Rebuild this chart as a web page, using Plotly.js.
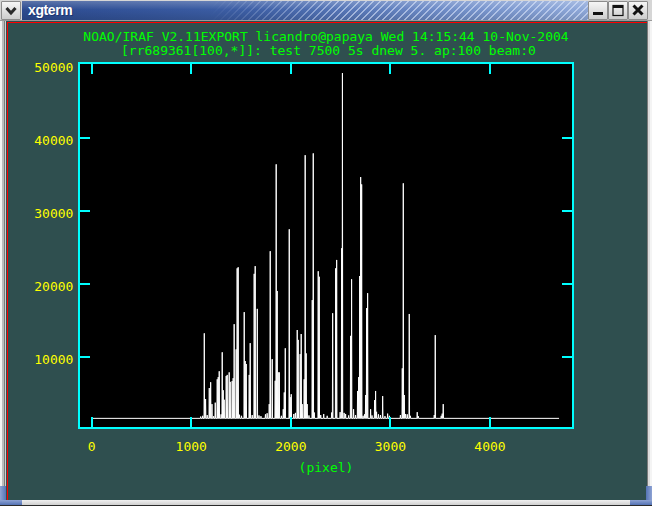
<!DOCTYPE html>
<html><head><meta charset="utf-8">
<script src="https://cdn.plot.ly/plotly-3.0.1.min.js"></script>
<style>
html,body{margin:0;padding:0;background:#2f4f4f;overflow:hidden;}
#wrap{position:relative;width:652px;height:506px;overflow:hidden;}
#chart{position:absolute;left:0;top:0;width:652px;height:506px;}
.c{position:absolute;box-sizing:border-box;}
.btn{top:1px;width:20px;height:19px;background:linear-gradient(#f6f6f6,#cdcdcd);border:1px solid #8c8c8c;border-radius:1px;}
</style></head><body>
<div id="wrap">
<div id="chart"></div>
<!-- window chrome -->
<div class="c" style="left:0;top:0;width:652px;height:21px;background:#d6d6d6;border-bottom:1px solid #9a9a9a;"></div>
<div class="c btn" style="left:1px;">
  <svg width="18" height="17" style="position:absolute;left:0;top:0"><polyline points="4.5,6 9,11 13.5,6" fill="none" stroke="#2a2a2a" stroke-width="3"/></svg>
</div>
<div class="c" style="left:22px;top:1px;width:566px;height:19px;background:linear-gradient(to bottom,rgba(255,255,255,0.22),rgba(255,255,255,0) 45%,rgba(0,0,0,0.12)),linear-gradient(to right,#2c4b90 0%,#3d5fa6 40%,#6f8dc8 75%,#8fa9da 100%);"></div>
<div class="c" style="left:210px;top:1px;width:378px;height:19px;background:repeating-linear-gradient(135deg,rgba(225,235,255,0.55) 0 1.4px,transparent 1.4px 5px);-webkit-mask-image:linear-gradient(to right,transparent 0,#000 35%);mask-image:linear-gradient(to right,transparent 0,#000 35%);"></div>
<div class="c" style="left:28px;top:2px;height:17px;line-height:17px;color:#ffffff;font:bold 14px 'Liberation Sans',Arial,sans-serif;letter-spacing:-0.4px;text-shadow:1px 1px 0 #1d3470;">xgterm</div>
<div class="c btn" style="left:588px;"><svg width="18" height="17" style="position:absolute;left:0;top:0"><rect x="4" y="10" width="10" height="3" fill="#111"/></svg></div>
<div class="c btn" style="left:608px;"><svg width="18" height="17" style="position:absolute;left:0;top:0"><rect x="4" y="3.5" width="10" height="10" fill="none" stroke="#111" stroke-width="1.2"/><rect x="4" y="3" width="10" height="3" fill="#111"/></svg></div>
<div class="c btn" style="left:628px;"><svg width="18" height="17" style="position:absolute;left:0;top:0"><path d="M4.5,3.5 L13.5,12.5 M13.5,3.5 L4.5,12.5" stroke="#111" stroke-width="3"/></svg></div>
<!-- side borders -->
<div class="c" style="left:0;top:21px;width:6px;height:466px;background:linear-gradient(to right,#f2f2f2 0,#f2f2f2 2px,#bcbcbc 2px,#bcbcbc 4px,#7a7a7a 4px,#7a7a7a 5px,#d0d0d0 5px);"></div>
<div class="c" style="left:7px;top:22px;width:1px;height:478px;background:#ff0000;"></div>
<div class="c" style="left:7px;top:22px;width:640px;height:1px;background:#ff0000;"></div>
<div class="c" style="left:647px;top:21px;width:5px;height:466px;background:linear-gradient(to right,#7a7a7a 0,#7a7a7a 1px,#dcdcdc 1px,#dcdcdc 3px,#f4f4f4 3px);"></div>
<!-- bottom frame -->
<div class="c" style="left:0;top:500px;width:652px;height:5px;background:linear-gradient(#f0f0f0,#cfcfcf);"></div>
<div class="c" style="left:0;top:505px;width:652px;height:1px;background:#2a2a2a;"></div>
<div class="c" style="left:0;top:486px;width:6px;height:19px;background:linear-gradient(to right,#8ea3d4,#5473b4);"></div>
<div class="c" style="left:0;top:500px;width:22px;height:5px;background:linear-gradient(#8ea3d4,#5473b4);"></div>
<div class="c" style="left:646px;top:486px;width:6px;height:19px;background:linear-gradient(to right,#5473b4,#8ea3d4);"></div>
<div class="c" style="left:630px;top:500px;width:22px;height:5px;background:linear-gradient(#8ea3d4,#5473b4);"></div>
</div>
<script>
// ---- data ----
const titleLine1 = 'NOAO/IRAF V2.11EXPORT licandro@papaya Wed 14:15:44 10-Nov-2004';
const titleLine2 = '[rr689361[100,*]]: test 7500 5s dnew 5. ap:100 beam:0';
const xAxisLabel = '(pixel)';
const xTickValues = [0, 1000, 2000, 3000, 4000];
const yTickValues = [10000, 20000, 30000, 40000, 50000];

const firstPixel = 1;
const lastPixel = 4693;
const continuumCounts = 1550;

// emission lines: pixel and peak counts
const linePixel = [1131,1144,1181,1195,1208,1241,1261,1271,1281,1311,1321,1331,1351,1361,1381,1391,1411,1421,1431,1451,
  1461,1471,1532,1542,1552,1582,1592,1632,1642,1663,1783,1793,1813,1843,1853,1863,1873,1884,1924,1934,
  1944,1984,1994,2004,2064,2074,2094,2104,2114,2134,2144,2154,2164,2215,2225,2235,2275,2285,2410,2420,
  2450,2460,2510,2518,2600,2610,2630,2670,2681,2691,2701,2711,2751,2761,2771,2801,2841,2851,2861,2922,
  2972,3119,3129,3139,3169,3189,3269,3450,3520,3530];
const lineCounts = [13200,4200,5700,6500,3500,3700,6900,7200,8000,10600,5400,4100,7350,7500,7850,6550,6650,7050,14450,11000,
  22100,22250,16100,9400,9000,7500,11850,21350,22400,16550,3500,24450,9650,6700,36350,19000,7850,7850,2800,5100,
  11150,27450,4450,4850,13650,12300,10350,13100,3500,6900,37600,10450,3500,17750,37850,2350,21700,20950,2350,15950,
  22100,23250,24850,48850,12850,20600,2800,5300,7200,21050,34600,33600,4750,16650,18700,2800,4050,5300,2450,4600,
  2200,8400,33750,4750,2100,15850,2400,12950,2200,3500];

// faint features sitting on the continuum
const weakPixel = [1095,1115,1160,1225,1300,1485,1505,1612,1680,1700,1745,1762,1905,2030,2046,2182,2300,2330,2365,2495,
  2535,2550,2580,2650,2725,2740,2815,2880,2900,2945,2990,3100,3152,3200,3280,3440,3510];
const weakCounts = [1800,1900,2000,1850,2100,2050,1900,2000,1950,1850,2100,2250,1900,2150,2300,1950,2000,2150,1900,2400,
  2300,2150,1950,2000,1900,2100,1950,2100,2000,1850,1900,2000,2150,1900,1850,2000,1900];

// ---- build the trace vertices from the readings ----
const feats = linePixel.map((p,i)=>[p,lineCounts[i]]).concat(weakPixel.map((p,i)=>[p,weakCounts[i]]));
feats.sort((a,b)=>a[0]-b[0]);
const xs=[firstPixel], ys=[continuumCounts];
for (const [p,c] of feats){ xs.push(p-3,p,p+3); ys.push(continuumCounts,c,continuumCounts); }
xs.push(lastPixel); ys.push(continuumCounts);

const mono = "'DejaVu Sans Mono','Liberation Mono',monospace";
const trace = {type:'scatter', mode:'lines', x:xs, y:ys, line:{color:'#ffffff', width:1, shape:'linear'}, hoverinfo:'skip', showlegend:false};

const axisCommon = {
  showline:true, linecolor:'#00ffff', linewidth:2, mirror:'ticks',
  ticks:'inside', ticklen:10, tickwidth:2, tickcolor:'#00ffff',
  showgrid:false, zeroline:false, tickmode:'array',
  tickfont:{family:mono, size:13, color:'#ffff00'},
  exponentformat:'none', separatethousands:false
};

const layout = {
  width:652, height:506,
  margin:{l:80, r:80, t:64, b:79, pad:0},
  paper_bgcolor:'#2f4f4f', plot_bgcolor:'#000000',
  showlegend:false,
  title:{text:titleLine1, font:{family:mono, size:13, color:'#00ff00'}, x:0.5, xref:'paper', xanchor:'center', y:1-36.7/506, yref:'container', yanchor:'middle'},
  xaxis:Object.assign({}, axisCommon, {range:[-117,4823], tickvals:xTickValues, ticktext:xTickValues.map(String),
    ticklabelstandoff:6,
    title:{text:xAxisLabel, font:{family:mono, size:13, color:'#00ff00'}, standoff:10}}),
  yaxis:Object.assign({}, axisCommon, {range:[366,50092], tickvals:yTickValues, ticktext:yTickValues.map(String),
    ticklabelstandoff:2, ticklabelshift:3}),
  annotations:[{text:titleLine2, xref:'paper', yref:'paper', x:0.505, y:(427-51)/363, xanchor:'center', yanchor:'middle', showarrow:false,
    font:{family:mono, size:13, color:'#00ff00'}}]
};
Plotly.newPlot('chart',[trace],layout,{displayModeBar:false, staticPlot:true});
</script>
</body></html>
